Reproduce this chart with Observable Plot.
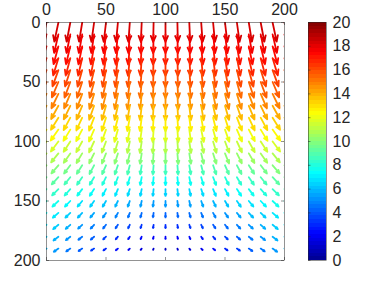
<!DOCTYPE html>
<html><head><meta charset="utf-8">
<script src="https://cdn.jsdelivr.net/npm/d3@7"></script>
<script src="https://cdn.jsdelivr.net/npm/@observablehq/plot@0.6"></script>
<style>
html,body{margin:0;padding:0;background:#fff;}
#chart{position:relative;width:374px;height:282px;}
#chart svg{position:absolute;left:0;top:0;}
</style></head><body><div id="chart"></div><script>
// Grid positions
const xs = [0,10,20,30,40,50,60,70,80,90,100,110,120,130,140,150,160,170,180,190,200];
const ys = [0,10,20,30,40,50,60,70,80,90,100,110,120,130,140,150,160,170,180,190];
// Horizontal components (one row per y)
const U = [
[-4.2,-3.8,-3.4,-2.9,-2.5,-2.1,-1.7,-1.3,-0.8,-0.4,0,0.4,0.8,1.3,1.7,2.1,2.5,2.9,3.4,3.8,4.2],
[-4.4,-4,-3.5,-3.1,-2.6,-2.2,-1.8,-1.3,-0.9,-0.4,0,0.4,0.9,1.3,1.8,2.2,2.6,3.1,3.5,4,4.4],
[-5,-4.5,-4,-3.5,-3,-2.5,-2,-1.5,-1,-0.5,0,0.5,1,1.5,2,2.5,3,3.5,4,4.5,5],
[-5.4,-4.9,-4.3,-3.8,-3.2,-2.7,-2.2,-1.6,-1.1,-0.5,0,0.5,1.1,1.6,2.2,2.7,3.2,3.8,4.3,4.9,5.4],
[-6.1,-5.5,-4.9,-4.3,-3.7,-3.1,-2.4,-1.8,-1.2,-0.6,0,0.6,1.2,1.8,2.4,3.1,3.7,4.3,4.9,5.5,6.1],
[-6.8,-6.1,-5.4,-4.8,-4.1,-3.4,-2.7,-2,-1.4,-0.7,0,0.7,1.4,2,2.7,3.4,4.1,4.8,5.4,6.1,6.8],
[-7.2,-6.5,-5.8,-5,-4.3,-3.6,-2.9,-2.2,-1.4,-0.7,0,0.7,1.4,2.2,2.9,3.6,4.3,5,5.8,6.5,7.2],
[-7.6,-6.8,-6.1,-5.3,-4.6,-3.8,-3,-2.3,-1.5,-0.8,0,0.8,1.5,2.3,3,3.8,4.6,5.3,6.1,6.8,7.6],
[-7.8,-7,-6.2,-5.5,-4.7,-3.9,-3.1,-2.3,-1.6,-0.8,0,0.8,1.6,2.3,3.1,3.9,4.7,5.5,6.2,7,7.8],
[-8,-7.2,-6.4,-5.6,-4.8,-4,-3.2,-2.4,-1.6,-0.8,0,0.8,1.6,2.4,3.2,4,4.8,5.6,6.4,7.2,8],
[-7.8,-7,-6.2,-5.5,-4.7,-3.9,-3.1,-2.3,-1.6,-0.8,0,0.8,1.6,2.3,3.1,3.9,4.7,5.5,6.2,7,7.8],
[-7.6,-6.8,-6.1,-5.3,-4.6,-3.8,-3,-2.3,-1.5,-0.8,0,0.8,1.5,2.3,3,3.8,4.6,5.3,6.1,6.8,7.6],
[-7.2,-6.5,-5.8,-5,-4.3,-3.6,-2.9,-2.2,-1.4,-0.7,0,0.7,1.4,2.2,2.9,3.6,4.3,5,5.8,6.5,7.2],
[-6.9,-6.2,-5.5,-4.8,-4.1,-3.5,-2.8,-2.1,-1.4,-0.7,0,0.7,1.4,2.1,2.8,3.5,4.1,4.8,5.5,6.2,6.9],
[-6.6,-5.9,-5.3,-4.6,-4,-3.3,-2.6,-2,-1.3,-0.7,0,0.7,1.3,2,2.6,3.3,4,4.6,5.3,5.9,6.6],
[-6.2,-5.6,-5,-4.3,-3.7,-3.1,-2.5,-1.9,-1.2,-0.6,0,0.6,1.2,1.9,2.5,3.1,3.7,4.3,5,5.6,6.2],
[-5.8,-5.2,-4.6,-4.1,-3.5,-2.9,-2.3,-1.7,-1.2,-0.6,0,0.6,1.2,1.7,2.3,2.9,3.5,4.1,4.6,5.2,5.8],
[-5.4,-4.9,-4.3,-3.8,-3.2,-2.7,-2.2,-1.6,-1.1,-0.5,0,0.5,1.1,1.6,2.2,2.7,3.2,3.8,4.3,4.9,5.4],
[-5.1,-4.6,-4.1,-3.6,-3.1,-2.6,-2,-1.5,-1,-0.5,0,0.5,1,1.5,2,2.6,3.1,3.6,4.1,4.6,5.1],
[-4.8,-4.3,-3.8,-3.4,-2.9,-2.4,-1.9,-1.4,-1,-0.5,0,0.5,1,1.4,1.9,2.4,2.9,3.4,3.8,4.3,4.8]
];
// Vertical components (positive = downward, toward larger y)
const V = [
[17.8,17.9,18,18,18.1,18.1,18.1,18.2,18.2,18.2,18.2,18.2,18.2,18.2,18.1,18.1,18.1,18,18,17.9,17.8],
[17.2,17.3,17.4,17.4,17.5,17.5,17.5,17.6,17.6,17.6,17.6,17.6,17.6,17.6,17.5,17.5,17.5,17.4,17.4,17.3,17.2],
[16.6,16.7,16.8,16.9,16.9,17,17,17.1,17.1,17.1,17.1,17.1,17.1,17.1,17,17,16.9,16.9,16.8,16.7,16.6],
[16,16.1,16.2,16.3,16.3,16.4,16.4,16.5,16.5,16.5,16.5,16.5,16.5,16.5,16.4,16.4,16.3,16.3,16.2,16.1,16],
[15,15.2,15.3,15.5,15.6,15.7,15.8,15.8,15.9,15.9,15.9,15.9,15.9,15.8,15.8,15.7,15.6,15.5,15.3,15.2,15],
[14.2,14.4,14.6,14.7,14.8,14.9,15,15.1,15.2,15.2,15.2,15.2,15.2,15.1,15,14.9,14.8,14.7,14.6,14.4,14.2],
[13.1,13.4,13.6,13.8,14,14.2,14.3,14.4,14.4,14.5,14.5,14.5,14.4,14.4,14.3,14.2,14,13.8,13.6,13.4,13.1],
[12,12.3,12.6,12.8,13,13.2,13.3,13.5,13.5,13.6,13.6,13.6,13.5,13.5,13.3,13.2,13,12.8,12.6,12.3,12],
[11,11.3,11.6,11.9,12.1,12.3,12.4,12.5,12.6,12.7,12.7,12.7,12.6,12.5,12.4,12.3,12.1,11.9,11.6,11.3,11],
[9.8,10.2,10.5,10.8,11.1,11.3,11.5,11.6,11.7,11.8,11.8,11.8,11.7,11.6,11.5,11.3,11.1,10.8,10.5,10.2,9.8],
[8.9,9.3,9.6,9.9,10.2,10.4,10.6,10.7,10.8,10.9,10.9,10.9,10.8,10.7,10.6,10.4,10.2,9.9,9.6,9.3,8.9],
[8,8.4,8.7,9,9.2,9.4,9.6,9.7,9.8,9.9,9.9,9.9,9.8,9.7,9.6,9.4,9.2,9,8.7,8.4,8],
[7.2,7.5,7.7,7.9,8.1,8.3,8.4,8.5,8.5,8.6,8.6,8.6,8.5,8.5,8.4,8.3,8.1,7.9,7.7,7.5,7.2],
[6.5,6.7,6.8,7,7.1,7.2,7.3,7.3,7.4,7.4,7.4,7.4,7.4,7.3,7.3,7.2,7.1,7,6.8,6.7,6.5],
[5.8,5.9,6,6.1,6.2,6.2,6.3,6.3,6.4,6.4,6.4,6.4,6.4,6.3,6.3,6.2,6.2,6.1,6,5.9,5.8],
[5.2,5.2,5.2,5.2,5.3,5.3,5.3,5.3,5.3,5.3,5.3,5.3,5.3,5.3,5.3,5.3,5.3,5.2,5.2,5.2,5.2],
[4.6,4.5,4.4,4.4,4.3,4.3,4.3,4.2,4.2,4.2,4.2,4.2,4.2,4.2,4.3,4.3,4.3,4.4,4.4,4.5,4.6],
[4.2,4,3.8,3.6,3.5,3.4,3.3,3.2,3.1,3.1,3.1,3.1,3.1,3.2,3.3,3.4,3.5,3.6,3.8,4,4.2],
[3.8,3.5,3.2,2.9,2.7,2.5,2.4,2.3,2.2,2.1,2.1,2.1,2.2,2.3,2.4,2.5,2.7,2.9,3.2,3.5,3.8],
[3.5,3,2.6,2.3,1.9,1.7,1.5,1.3,1.2,1.1,1.1,1.1,1.2,1.3,1.5,1.7,1.9,2.3,2.6,3,3.5]
];
// Axis ticks
const xTicks = [0,50,100,150,200];
const yTicks = [0,50,100,150,200];
const cbTicks = [0,2,4,6,8,10,12,14,16,18,20];
// jet colormap stops
const jetStops = [0, 2.22, 7.3, 12.4, 17.46, 20];
const jetColors = ["#00008f","#0000ff","#00ffff","#ffff00","#ff0000","#800000"];

const field = [];
ys.forEach((y, i) => xs.forEach((x, j) => field.push({x, y, u: U[i][j], v: V[i][j]})));

const arrowScale = 0.9;
const W = 374, H = 282;
const mL = 46, mR = 90, mT = 22, mB = 22;
const pw = W - mL - mR, ph = H - mT - mB;
const tickLen = 3;
const axisColor = "#262626";
const font = "Liberation Sans, Arial, Helvetica, sans-serif";
const colorOpts = {type: "linear", domain: jetStops, range: jetColors, interpolate: "rgb", clamp: true};

const main = Plot.plot({
  width: W, height: H,
  marginLeft: mL, marginRight: mR, marginTop: mT, marginBottom: mB,
  x: {domain: [0, 200], axis: null},
  y: {domain: [0, 200], reverse: true, axis: null},
  color: colorOpts,
  style: {fontFamily: font, fontSize: "16px", color: axisColor, background: "white"},
  marks: [
    Plot.arrow(field, {
      x1: "x", y1: "y",
      x2: d => d.x + d.u * arrowScale,
      y2: d => d.y + d.v * arrowScale,
      stroke: d => Math.hypot(d.u, d.v),
      strokeWidth: 1.8, headAngle: 45, headLength: 8, clip: true
    }),
    Plot.frame({stroke: axisColor, strokeWidth: 0.5}),
    Plot.ruleX(xTicks, {x: d => d, insetBottom: ph - tickLen, stroke: axisColor, strokeWidth: 0.5}),
    Plot.ruleX(xTicks, {x: d => d, insetTop: ph - tickLen, stroke: axisColor, strokeWidth: 0.5}),
    Plot.ruleY(yTicks, {y: d => d, insetRight: pw - tickLen, stroke: axisColor, strokeWidth: 0.5}),
    Plot.ruleY(yTicks, {y: d => d, insetLeft: pw - tickLen, stroke: axisColor, strokeWidth: 0.5}),
    Plot.axisX(xTicks, {anchor: "top", tickSize: 0, tickPadding: 8, label: null}),
    Plot.axisY(yTicks, {anchor: "left", tickSize: 0, tickPadding: 6, label: null})
  ]
});

const cbLevels = d3.range(64);
const cbMax = 20;
const cbX0 = 308, cbX1 = 326;
const cbar = Plot.plot({
  width: W, height: H,
  marginLeft: cbX0, marginRight: W - cbX1, marginTop: mT, marginBottom: mB,
  x: {domain: [0, 1], axis: null},
  y: {domain: [0, cbMax], axis: null},
  color: colorOpts,
  style: {fontFamily: font, fontSize: "16px", color: axisColor, background: "transparent"},
  marks: [
    Plot.rect(cbLevels, {
      x1: () => 0, x2: () => 1,
      y1: d => d * cbMax / 64, y2: d => (d + 1) * cbMax / 64,
      fill: d => (d + 0.5) * cbMax / 64,
      shapeRendering: "crispEdges"
    }),
    Plot.ruleY(cbTicks, {y: d => d, insetRight: (cbX1 - cbX0) - 2.5, stroke: axisColor, strokeWidth: 0.5}),
    Plot.frame({stroke: axisColor, strokeWidth: 0.5}),
    Plot.axisY(cbTicks, {anchor: "right", tickSize: 0, tickPadding: 6, label: null})
  ]
});

const el = document.getElementById("chart");
el.appendChild(main);
el.appendChild(cbar);
</script></body></html>
